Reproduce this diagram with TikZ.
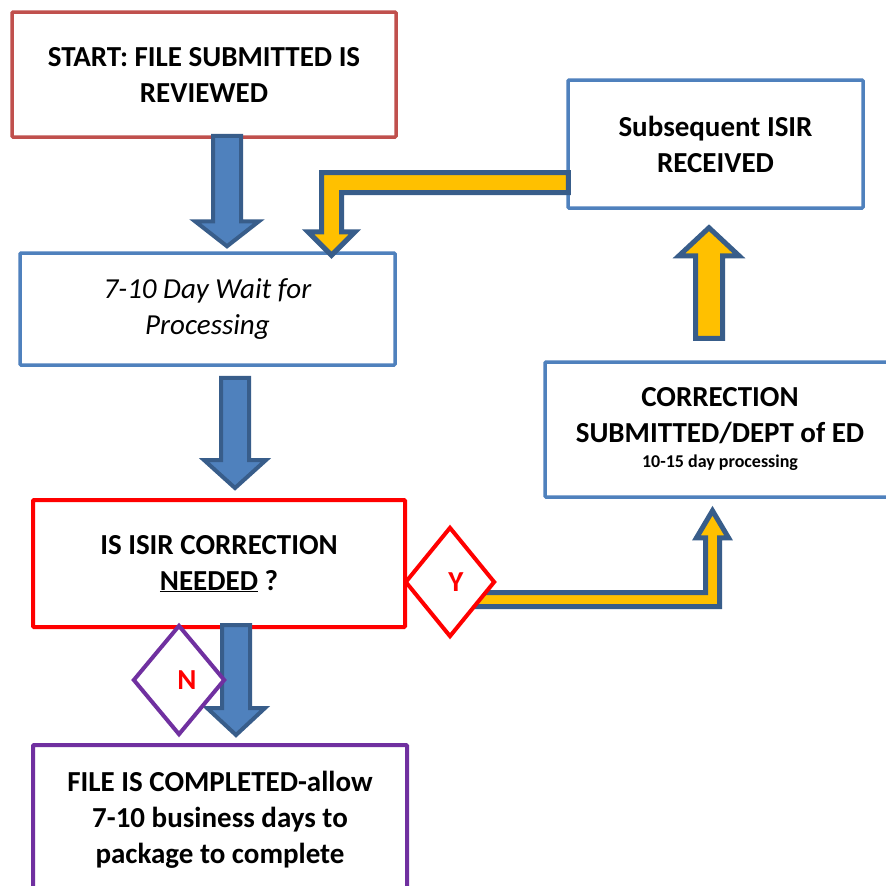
\documentclass[tikz,border=0pt]{standalone}
\usepackage{fontspec}
\setmainfont{Carlito}
\usetikzlibrary{shapes.geometric,calc}

\definecolor{startred}{HTML}{C0504D}
\definecolor{boxblue}{HTML}{4F81BD}
\definecolor{needred}{HTML}{FF0000}
\definecolor{donepurple}{HTML}{7030A0}
\definecolor{arrowfill}{HTML}{4F81BD}
\definecolor{arrowedge}{HTML}{385D8A}
\definecolor{arrowgold}{HTML}{FFC000}

% straight block arrow: style, from, to, half shaft, half head, head length
\newcommand\vblockarrow[6]{%
  \draw[#1] let \p1=(#2), \p2=(#3), \n1={sign(\y2-\y1)} in
    ({\x1-#4},\y1) -- ({\x1-#4},{\y2-\n1*#6}) -- ({\x1-#5},{\y2-\n1*#6}) -- (\x1,\y2)
    -- ({\x1+#5},{\y2-\n1*#6}) -- ({\x1+#4},{\y2-\n1*#6}) -- ({\x1+#4},\y1) -- cycle;}

% bent block arrow: across first, then up or down to the tip
\newcommand\elbowarrow[6]{%
  \draw[#1] let \p1=(#2), \p2=(#3), \n1={sign(\x2-\x1)}, \n2={sign(\y2-\y1)} in
    (\x1,{\y1-\n2*#4}) -- ({\x2+\n1*#4},{\y1-\n2*#4}) -- ({\x2+\n1*#4},{\y2-\n2*#6})
    -- ({\x2+\n1*#5},{\y2-\n2*#6}) -- (\x2,\y2) -- ({\x2-\n1*#5},{\y2-\n2*#6})
    -- ({\x2-\n1*#4},{\y2-\n2*#6}) -- ({\x2-\n1*#4},{\y1+\n2*#4}) -- (\x1,{\y1+\n2*#4}) -- cycle;}

\tikzset{
  box/.style={draw, rectangle, line width=3.5pt, rounded corners=1pt, align=center,
    inner sep=0pt, font=\fontsize{29}{36}\selectfont\bfseries},
  decision/.style={draw, diamond, fill=white, line width=4pt, inner sep=0pt,
    minimum width=90pt, minimum height=110pt, text=needred,
    font=\fontsize{29}{36}\selectfont\bfseries},
  bluearrow/.style={fill=arrowfill, draw=arrowedge, line width=4pt},
  goldarrow/.style={fill=arrowgold, draw=arrowedge, line width=5pt}
}

\begin{document}
\begin{tikzpicture}[x=1pt,y=-1pt]
  \clip (0,0) rectangle (886,886);
  \fill[white] (0,0) rectangle (886,886);

  % Boxes
  \node (start) at (204,74.5) [box, draw=startred, minimum width=384pt, minimum height=125pt]
    {START: FILE SUBMITTED IS\\REVIEWED};
  \node (wait) at (207.5,309) [box, draw=boxblue, minimum width=375pt, minimum height=112pt,
    font=\fontsize{29}{36}\selectfont\itshape] {\raisebox{-4pt}{7-10 Day Wait for}\\\raisebox{-4pt}{Processing}};
  \node (needed) at (219,563.5) [box, draw=needred, line width=4pt, minimum width=372pt, minimum height=127pt]
    {IS ISIR CORRECTION\\\underline{NEEDED} ?};
  \node (submitted) at (720,429.5) [box, draw=boxblue, minimum width=350pt, minimum height=135pt]
    {\raisebox{-4pt}{CORRECTION}\\\raisebox{-4pt}{SUBMITTED/DEPT of ED}\\[-11pt]{\fontsize{18}{22}\selectfont\raisebox{-4pt}{10-15 day processing}}};
  \node (subseq) at (715.5,144) [box, draw=boxblue, minimum width=295pt, minimum height=128pt]
    {Subsequent ISIR\\RECEIVED};
  \node (completed) at (220,820) [box, draw=donepurple, line width=4pt, minimum width=374pt, minimum height=150pt]
    {FILE IS COMPLETED-allow\\7-10 business days to\\package to complete};

  % Arrow ends
  \coordinate (a1) at ($(start.south)+(23,-3)$);
  \coordinate (a2) at ($(a1 |- wait.north)+(0,-5)$);
  \coordinate (b1) at ($(wait.south)+(27.5,11)$);
  \coordinate (b2) at ($(b1 |- needed.north)+(0,-10)$);
  \coordinate (c1) at ($(needed.south)+(17,-4)$);
  \coordinate (c2) at ($(c1 |- completed.north)+(0,-8)$);
  \coordinate (d1) at ($(submitted.north)+(-11,-22)$);
  \coordinate (d2) at ($(d1 |- subseq.south)+(0,18)$);
  \coordinate (e1) at ($(subseq.west)+(2,38.5)$);
  \coordinate (e2) at ($(wait.north)+(124,4)$);
  \coordinate (f1) at (450,599.5);
  \coordinate (f2) at ($(submitted.south)+(-7.5,12)$);

  % Block arrows
  \vblockarrow{bluearrow}{a1}{a2}{14pt}{32pt}{25pt}
  \vblockarrow{bluearrow}{b1}{b2}{14pt}{31pt}{28pt}
  \vblockarrow{bluearrow}{c1}{c2}{14pt}{29pt}{27pt}
  \vblockarrow{goldarrow}{d1}{d2}{13.5pt}{30pt}{28pt}
  \elbowarrow{goldarrow}{e1}{e2}{10pt}{23.5pt}{23.5pt}
  \elbowarrow{goldarrow}{f1}{f2}{7pt}{16pt}{27pt}

  % Yes / no
  \node (yes) at (450,582) [decision, draw=needred] {\hspace{12pt}\raisebox{-4pt}{Y}};
  \node (no) at (179,680) [decision, draw=donepurple, minimum width=92pt] {\hspace{16pt}\raisebox{-3pt}{N}};
\end{tikzpicture}
\end{document}
